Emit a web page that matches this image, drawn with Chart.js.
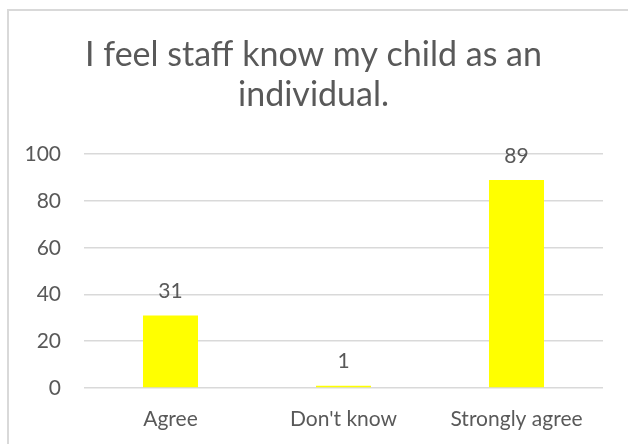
<!DOCTYPE html>
<html>
<head>
<meta charset="utf-8">
<script src="https://cdn.jsdelivr.net/npm/chart.js@4"></script>
<style>
  html, body { margin: 0; padding: 0; background: #fff; }
  body { width: 628px; height: 444px; overflow: hidden; position: relative; }
  #marco {
    position: absolute; left: 7px; top: 9px; width: 621px; height: 435px;
    border-left: 2px solid #d9d9d9; border-top: 2px solid #d9d9d9;
  }
  #grafico { display: block; }
</style>
</head>
<body>
<div id="marco"><canvas id="grafico" width="619" height="433"></canvas></div>
<script>
// Datos del gráfico
const categorias = ["Agree", "Don't know", "Strongly agree"];
const respuestas = [31, 1, 89];
const marcasEje = [0, 20, 40, 60, 80, 100];
const titulo = ["I feel staff know my child as an", "individual."];

const colorTexto = '#595959';
const fuente = 'Lato, "Open Sans", sans-serif';

// Plugin sencillo para escribir el valor encima de cada barra
const etiquetasValor = {
  id: 'etiquetasValor',
  afterDatasetsDraw(chart) {
    const ctx = chart.ctx;
    const meta = chart.getDatasetMeta(0);
    ctx.save();
    ctx.fillStyle = colorTexto;
    ctx.font = '21px ' + fuente;
    ctx.textAlign = 'center';
    ctx.textBaseline = 'middle';
    meta.data.forEach(function (barra, i) {
      ctx.fillText(chart.data.datasets[0].data[i], barra.x, barra.y - 24);
    });
    ctx.restore();
  }
};

const ctx = document.getElementById('grafico').getContext('2d');
window.chart = new Chart(ctx, {
  type: 'bar',
  data: {
    labels: categorias,
    datasets: [{
      data: respuestas,
      backgroundColor: '#FFFF00',
      borderWidth: 0,
      categoryPercentage: 1,
      barPercentage: 0.318
    }]
  },
  options: {
    responsive: false,
    animation: false,
    layout: { padding: { left: 15, right: 25, top: 0, bottom: 0 } },
    plugins: {
      legend: { display: false },
      tooltip: { enabled: false },
      title: {
        display: true,
        text: titulo,
        color: colorTexto,
        font: { family: fuente, size: 34, weight: 'normal', lineHeight: 1.18 },
        padding: { top: 24, bottom: 39 }
      }
    },
    scales: {
      x: {
        grid: { display: false, drawTicks: false },
        border: { display: false },
        ticks: { color: colorTexto, font: { family: fuente, size: 21 }, padding: 19 },
        afterFit(scale) { scale.height = 56; }
      },
      y: {
        min: 0,
        max: 100,
        afterBuildTicks(scale) { scale.ticks = marcasEje.map(v => ({ value: v })); },
        grid: { color: '#d9d9d9', lineWidth: 1.5, drawTicks: false },
        border: { display: false },
        ticks: { color: colorTexto, font: { family: fuente, size: 21 }, padding: 23 },
        afterFit(scale) { scale.width = 60; }
      }
    }
  },
  plugins: [etiquetasValor]
});
</script>
</body>
</html>
